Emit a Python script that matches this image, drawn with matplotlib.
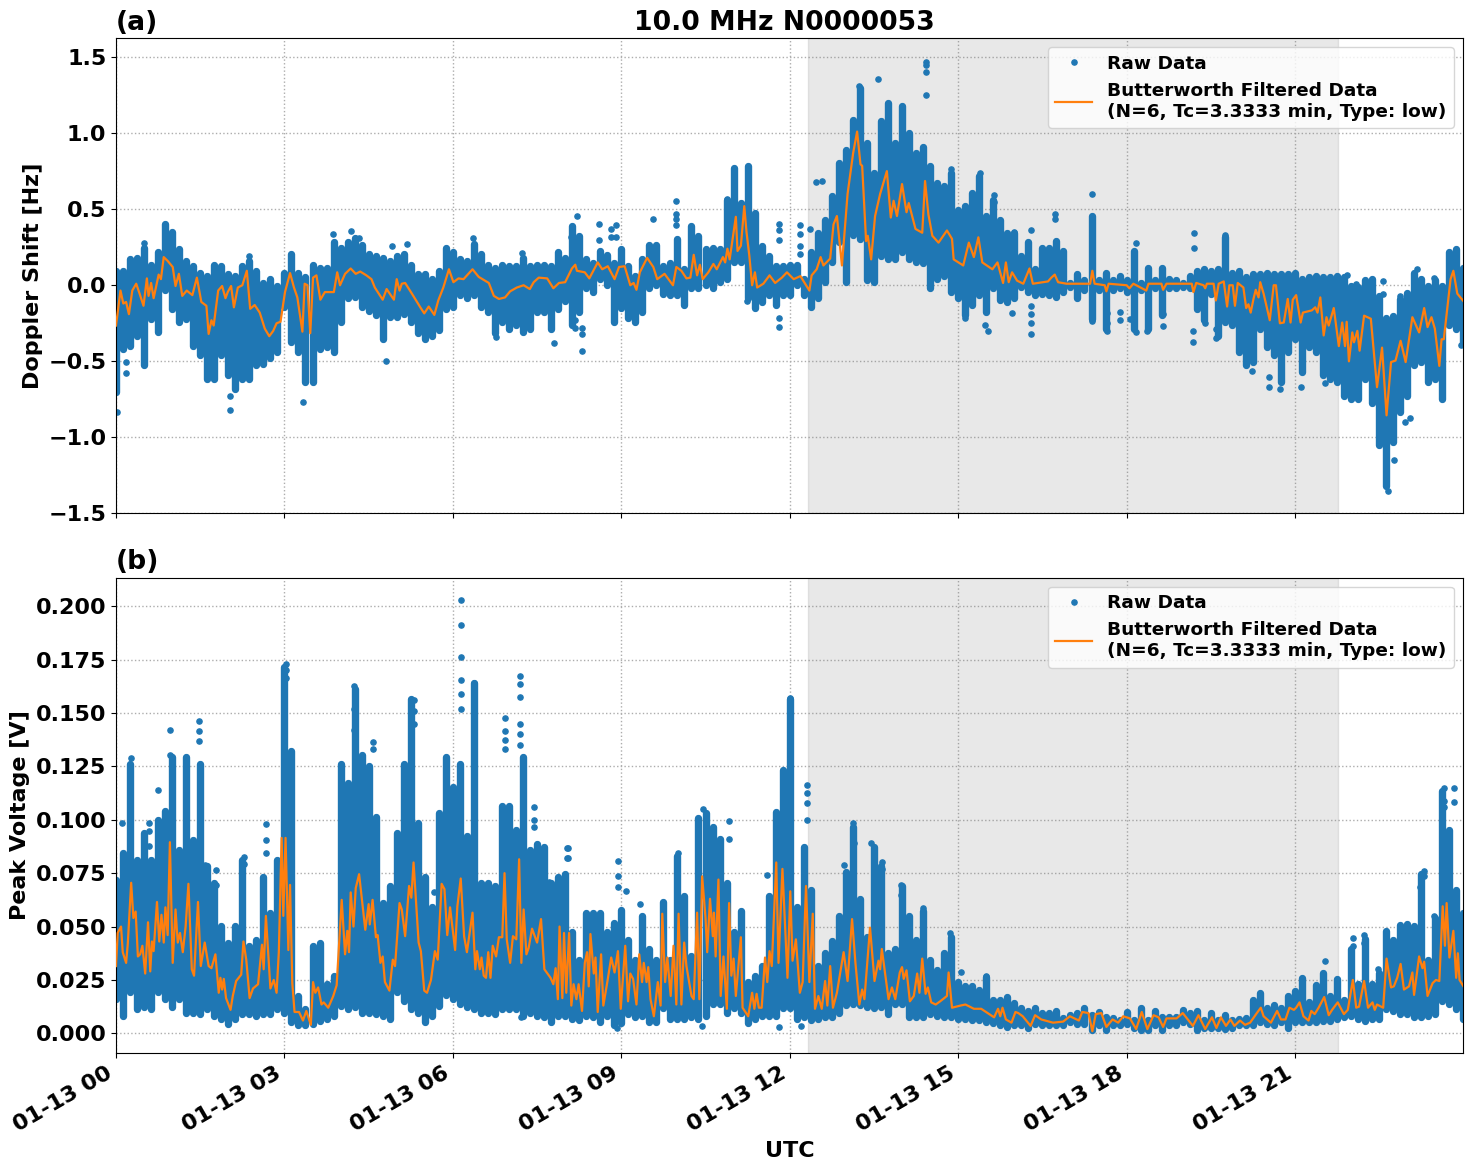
from datetime import datetime

import numpy as np
import pandas as pd
import matplotlib
matplotlib.use("Agg")
import matplotlib.pyplot as plt
import matplotlib.dates as mdates

plt.rcParams["font.size"] = 16
plt.rcParams["font.weight"] = "bold"
plt.rcParams["axes.labelweight"] = "bold"
plt.rcParams["axes.titleweight"] = "bold"

start = datetime(2024, 1, 13)
TITLE = "10.0 MHz N0000053 "
FILTER_LABEL = "Butterworth Filtered Data\n(N=6, Tc=3.3333 min, Type: low)"
eclipse_hours = (12.33, 21.76)
doppler_ylim = (-1.5, 1.625)
voltage_ylim = (-0.0092, 0.2134)

# Spread of the raw Doppler samples, one low/high pair every 7.5 minutes
doppler_high = [
    .12, .12, .195, .205, .27, .16, .24, .425, .375, .26, .185, .15, .105, .085, .16, .15,
    .095, .085, .15, .185, .12, .04, .065, .02, .105, .23, .105, .075, .16, .14, .14, .305,
    .27, .305, .335, .285, .23, .215, .205, .185, .215, .23, .16, .095, .095, .065, .12, .27,
    .24, .195, .185, .295, .23, .16, .14, .16, .15, .15, .205, .15, .16, .16, .15, .24, .205,
    .41, .345, .195, .17, .25, .225, .17, .26, .15, .085, .195, .29, .29, .15, .17, .325,
    .13, .41, .345, .26, .27, .26, .585, .795, .565, .805, .50, .28, .215, .15, .15, .16,
    .16, .065, .24, .37, .455, .61, .83, .915, 1.11, 1.32, .96, .76, 1.10, 1.22, .96, 1.20,
    1.025, .89, .935, .805, .695, .675, .76, .52, .545, .63, .74, .48, .585, .455, .37, .37,
    .215, .305, .13, .27, .27, .315, .25, .04, .095, .055, .48, .055, .105, .055, .085, .055,
    .25, .04, .14, .055, .14, .065, .055, .04, .085, .12, .13, .12, .13, .34, .105, .12,
    .075, .095, .095, .105, .095, .095, .095, .105, .065, .075, .085, .075, .075, .085, .075, .02,
    .01, .055, .065, -.045, -.19, -.18, -.07, -.025, .105, .065, .02, .055, .02, .24, .26, .14,
]
doppler_low = [
    -.725, -.44, -.42, -.355, -.55, -.245, -.33, -.055, -.18, -.265, -.245, -.42, -.485, -.64, -.64, -.485,
    -.615, -.705, -.64, -.64, -.55, -.54, -.505, -.465, -.165, -.395, -.465, -.66, -.66, -.44, -.43, -.465,
    -.265, -.11, -.10, -.165, -.19, -.22, -.375, -.23, -.23, -.21, -.265, -.34, -.375, -.355, -.32, -.18,
    -.165, -.09, -.11, -.09, -.165, -.20, -.34, -.265, -.31, -.285, -.33, -.31, -.20, -.20, -.31, -.18, -.125,
    -.285, -.20, -.045, -.065, .02, -.025, -.265, -.175, -.24, -.265, -.20, -.045, -.025, -.08, -.09, -.09,
    -.155, -.045, -.045, -.025, -.045, 0, .02, .13, .13, -.11, -.175, -.135, -.09, -.155, -.09, -.09,
    -.025, -.09, -.165, -.11, 0, .13, .26, 0, .305, .28, .01, 0, .17, .15, .15,
    .195, .15, .13, .12, -.045, .02, .04, -.07, -.11, -.22, -.155, -.09, -.20, -.045, -.12, -.135, -.11,
    -.035, -.07, -.09, -.08, -.09, -.10, -.07, -.035, -.11, -.055, -.245, -.055, -.31, -.055, -.045, -.07,
    -.31, -.055, -.31, -.045, -.22, -.045, -.045, -.035, -.045, -.18, -.255, -.08, -.355, -.265, -.285, -.465,
    -.55, -.53, -.31, -.43, -.485, -.66, -.465, -.375, -.595, -.43, -.465, -.615, -.64, -.66, -.75, -.77,
    -.77, -.64, -.80, -1.075, -1.34, -1.055, -.86, -.75, -.55, -.53, -.66, -.64, -.77, -.285, -.31, -.395,
]
# Isolated raw Doppler samples standing clear of the main spread
doppler_points = [
    (.02, -.83), (.17, -.58), (.17, -.505), (.49, .28), (2.03, -.82), (2.03, -.73), (2.37, .19), (3.33, -.765),
    (3.87, .34), (4.19, .355), (4.33, .31), (4.81, -.50), (4.92, .255), (5.19, .27), (6.35, .31), (6.76, -.34),
    (7.23, .21), (7.8, -.38), (8.1, .32), (8.18, -.23), (8.18, -.28), (8.21, .455), (8.3, -.43), (8.3, -.32),
    (8.3, -.28), (8.6, .40), (8.6, .30), (8.81, .37), (8.81, .315), (8.9, .395), (8.9, .315), (9.57, .435),
    (9.98, .555), (9.98, .47), (9.98, .435), (9.98, .395), (10.89, .57), (10.89, .50), (11.23, -.105), (11.8, -.275),
    (11.8, -.215), (11.8, .40), (11.8, .36), (11.8, .30), (12.19, .395), (12.19, .335), (12.19, .26), (12.19, .205),
    (12.36, .37), (12.46, .68), (12.57, .685), (13.23, 1.31), (13.58, 1.355), (14.43, 1.47), (14.43, 1.45), (14.43, 1.40),
    (14.43, 1.25), (14.88, .765), (15.13, -.215), (15.39, .74), (15.48, -.26), (15.54, -.30), (15.64, .59), (15.64, .545),
    (15.96, -.18), (16.0, .35), (16.3, .36), (16.3, -.32), (16.3, -.25), (16.3, -.19), (16.3, -.135), (16.73, .47),
    (16.73, .435), (17.39, .60), (17.39, -.235), (17.39, -.165), (17.65, -.30), (17.65, -.245), (17.65, -.18), (17.89, -.175),
    (17.89, -.23), (18.06, -.22), (18.17, -.31), (18.17, .28), (18.36, -.30), (18.65, -.265), (18.65, -.19), (19.19, -.375),
    (19.19, -.30), (19.2, .345), (19.2, .245), (19.39, -.245), (19.59, -.35), (19.59, -.29), (19.76, .33), (20.23, -.565),
    (20.53, -.67), (20.53, -.60), (20.74, -.68), (21.1, -.67), (21.53, -.64), (21.93, .065), (22.09, .01), (22.57, .025),
    (22.57, -.055), (22.65, -1.355), (22.76, -1.15), (22.87, -.07), (22.96, -.90), (23.05, -.87), (23.17, .11), (23.48, .045),
    (23.96, -.39),
]
doppler_filtered = [
    (0, -.265), (.08, -.035), (.13, -.12), (.18, -.11), (.23, -.19), (.29, -.035), (.36, .01), (.42, -.055),
    (.49, -.135), (.55, .045), (.58, -.07), (.625, .015), (.67, -.085), (.76, .07), (.80, .04), (.85, .185),
    (.92, .16), (1.01, .12), (1.06, -.005), (1.12, .075), (1.18, -.07), (1.26, -.035), (1.36, -.065), (1.44, .05),
    (1.52, -.11), (1.61, -.135), (1.65, -.32), (1.70, -.23), (1.74, -.265), (1.82, -.035), (1.89, -.005), (1.95, -.085),
    (1.99, -.045), (2.05, -.005), (2.10, -.145), (2.17, -.015), (2.25, 0), (2.33, .095), (2.39, -.155), (2.47, -.13),
    (2.56, -.18), (2.65, -.285), (2.73, -.335), (2.80, -.30), (2.86, -.25), (2.93, -.24), (3.01, -.045), (3.10, .08),
    (3.17, -.015), (3.23, -.08), (3.32, -.305), (3.36, .01), (3.41, 0), (3.46, -.315), (3.51, .05), (3.57, .065),
    (3.64, -.095), (3.72, -.045), (3.88, -.045), (3.94, .085), (3.99, 0), (4.08, .075), (4.18, .11), (4.27, .075),
    (4.35, .09), (4.46, .065), (4.55, .04), (4.61, -.015), (4.75, -.095), (4.82, -.025), (4.95, -.095), (5.0, .04),
    (5.05, -.035), (5.09, .01), (5.15, .015), (5.27, -.055), (5.42, -.145), (5.49, -.185), (5.57, -.14), (5.67, -.195),
    (5.74, -.10), (5.83, -.015), (5.93, .105), (6.01, .02), (6.10, .045), (6.19, .04), (6.35, .105), (6.46, .055),
    (6.64, .015), (6.73, -.07), (6.82, -.09), (6.93, -.08), (7.02, -.04), (7.14, -.015), (7.26, 0), (7.37, -.025),
    (7.44, .02), (7.53, .05), (7.68, .045), (7.79, -.02), (7.89, .015), (8.0, .02), (8.12, .11), (8.18, .135),
    (8.21, .095), (8.35, .085), (8.43, .045), (8.58, .15), (8.66, .105), (8.76, .125), (8.88, .04), (8.96, .12),
    (9.06, .125), (9.16, 0), (9.22, .015), (9.27, -.03), (9.33, .085), (9.46, .18), (9.57, .12), (9.64, .04),
    (9.77, .075), (9.92, 0), (9.98, .12), (10.07, .095), (10.16, .045), (10.23, .05), (10.29, .20), (10.35, .065),
    (10.40, .135), (10.45, .04), (10.55, .085), (10.64, .14), (10.70, .105), (10.81, .185), (10.85, .15), (10.89, .24),
    (10.93, .17), (11.04, .45), (11.07, .225), (11.13, .26), (11.19, .52), (11.23, .35), (11.28, .195), (11.33, 0),
    (11.38, .085), (11.42, -.015), (11.53, .01), (11.64, .065), (11.74, .015), (11.86, .05), (11.95, .085), (12.07, .04),
    (12.19, .06), (12.35, -.035), (12.39, .065), (12.48, .105), (12.55, .185), (12.60, .13), (12.72, .175), (12.78, .40),
    (12.84, .455), (12.93, .13), (13.03, .60), (13.13, .87), (13.2, 1.01), (13.26, .795), (13.29, .785), (13.36, .29),
    (13.39, .325), (13.45, .17), (13.52, .455), (13.61, .60), (13.73, .75), (13.80, .445), (13.85, .555), (13.91, .455),
    (14.0, .665), (14.08, .48), (14.12, .54), (14.24, .37), (14.36, .345), (14.41, .685), (14.47, .465), (14.54, .325),
    (14.65, .28), (14.80, .36), (14.89, .305), (14.92, .17), (15.09, .13), (15.19, .28), (15.28, .185), (15.36, .315),
    (15.43, .15), (15.61, .105), (15.70, .15), (15.8, .015), (15.85, .15), (15.90, .02), (15.96, .085), (16.05, .03),
    (16.16, .01), (16.27, .11), (16.33, .01), (16.6, .025), (16.66, .05), (16.72, .07), (16.78, .02), (16.93, .01),
    (17.35, .01), (17.39, .095), (17.43, .01), (17.61, 0), (17.64, -.04), (17.68, .01), (18.0, 0), (18.05, -.02),
    (18.12, .01), (18.35, -.035), (18.39, .01), (18.62, .01), (18.65, -.03), (18.71, .01), (19.16, .01), (19.19, -.045),
    (19.24, .015), (19.37, 0), (19.40, -.02), (19.43, .01), (19.55, .01), (19.59, -.10), (19.64, .01), (19.73, .025),
    (19.79, -.14), (19.83, 0), (19.89, 0), (19.93, -.135), (19.98, .015), (20.08, -.015), (20.13, -.15), (20.17, -.125),
    (20.21, -.18), (20.26, -.09), (20.30, -.03), (20.35, -.08), (20.38, .02), (20.44, -.055), (20.55, -.23), (20.62, 0),
    (20.66, 0), (20.73, -.25), (20.80, -.245), (20.87, -.09), (20.92, -.245), (20.96, -.095), (21.02, -.065), (21.10, -.245),
    (21.14, -.18), (21.30, -.165), (21.36, -.145), (21.40, -.18), (21.45, -.08), (21.51, -.33), (21.56, -.21), (21.6, -.265),
    (21.69, -.15), (21.78, -.40), (21.84, -.245), (21.89, -.40), (21.92, -.24), (21.96, -.50), (22.02, -.31), (22.05, -.375),
    (22.11, -.30), (22.15, -.43), (22.23, -.20), (22.35, -.22), (22.46, -.67), (22.55, -.41), (22.63, -.855), (22.71, -.505),
    (22.79, -.495), (22.88, -.365), (22.97, -.505), (23.09, -.21), (23.21, -.31), (23.30, -.15), (23.36, -.275), (23.43, -.21),
    (23.49, -.285), (23.57, -.53), (23.61, -.355), (23.65, -.355), (23.77, .04), (23.82, .095), (23.89, -.055), (24.0, -.105),
]

# Same breakdown for the peak voltage
voltage_high = [
    .0735, .086, .128, .083, .0955, .083, .1015, .106, .131, .0875, .131, .092, .128, .08, .072, .052,
    .044, .052, .083, .0425, .0455, .075, .058, .083, .173, .134, .019, .013, .0425, .044, .025, .0285,
    .128, .119, .163, .132, .127, .103, .0625, .0705, .0955, .128, .158, .10, .075, .061, .105, .131,
    .117, .128, .094, .1655, .072, .072, .0705, .108, .108, .097, .131, .0875, .0905, .089, .072, .075, .0765,
    .049, .036, .058, .058, .058, .049, .0535, .0595, .0455, .036, .0565, .041, .036, .063, .036, .0845,
    .066, .038, .1025, .105, .0985, .0925, .072, .049, .059, .0255, .0285, .033, .066, .1055, .125, .158,
    .061, .089, .069, .033, .0395, .045, .0565, .077, .0985, .0645, .047, .089, .08, .0395, .041, .0705,
    .0565, .0455, .059, .036, .0315, .0395, .047, .0255, .024, .024, .022, .028, .0175, .0175, .0185, .016,
    .0135, .012, .0135, .011, .011, .012, .009, .0105, .011, .0135, .0105, .0115, .0095, .009, .008, .0115,
    .008, .0135, .008, .012, .0095, .0095, .0095, .0125, .011, .012, .008, .011, .008, .0105, .008, .0085,
    .009, .0175, .0205, .0135, .015, .0135, .019, .0215, .0275, .0165, .0245, .03, .019, .027, .0175, .041,
    .025, .046, .025, .03, .0495, .0455, .0525, .053, .052, .0765, .036, .0555, .115, .097, .069, .058,
]
voltage_low = [
    .0145, .0065, .0175, .0095, .0105, .0095, .0175, .0145, .0105, .0145, .008, .008, .0075, .0095, .0065, .005,
    .0025, .005, .0075, .0075, .0065, .0075, .0075, .0095, .008, .0035, .002, .002, .0025, .004, .005, .0065,
    .011, .0095, .0105, .008, .008, .0075, .0065, .005, .0175, .0135, .0095, .008, .0035, .0065, .011, .0165,
    .0145, .012, .0105, .0095, .008, .008, .0075, .0095, .0095, .0095, .0065, .008, .0065, .006, .0035, .0065, .0065,
    .005, .0045, .0065, .006, .0035, .0065, .002, .003, .0075, .006, .0065, .0035, .0035, .01, .005, .005,
    .005, .006, .005, .0065, .012, .012, .008, .01, .008, .003, .005, .0065, .0065, .0065, .01, .01,
    .005, .006, .0045, .005, .006, .006, .008, .0115, .012, .0115, .0105, .01, .0105, .0075, .012, .012,
    .006, .006, .006, .0075, .0065, .006, .006, .005, .005, .0045, .0045, .0035, .003, .002, .0015, .002,
    .002, .001, .0025, .002, .002, .002, .002, .0035, .0025, .0025, 0, .002, 0, .002, .002, .0025,
    .001, 0, 0, .002, 0, .002, .002, .0035, .0025, 0, .001, .001, .001, .0005, .001, .002,
    .002, .002, .0035, .0025, .002, .0035, .001, .0035, .0035, .0035, .0035, .004, .004, .005, .006, .0065,
    .005, .004, .005, .005, .0095, .009, .0075, .0075, .006, .006, .0065, .0075, .0135, .012, .0095, .005,
]
voltage_points = [
    (.11, .0985), (.26, .129), (.58, .0985), (.58, .0945), (.58, .0875), (.74, .114), (.96, .142), (.96, .1305),
    (1.48, .146), (1.48, .1415), (1.48, .137), (1.58, .079), (1.78, .0765), (1.78, .0695), (2.28, .0825), (2.28, .0795),
    (2.67, .098), (2.67, .0905), (2.67, .0845), (3.03, .173), (3.03, .17), (3.03, .1665), (4.24, .1625), (4.24, .152),
    (4.24, .142), (4.57, .1365), (4.57, .133), (5.3, .156), (5.3, .151), (5.3, .145), (5.67, .066), (6.15, .203),
    (6.15, .191), (6.15, .176), (6.15, .1655), (6.15, .159), (6.15, .152), (6.37, .164), (6.37, .158), (6.37, .153),
    (6.37, .1445), (6.37, .139), (6.37, .1265), (6.92, .1475), (6.92, .1415), (6.92, .1375), (6.92, .133), (7.19, .1675),
    (7.19, .1635), (7.19, .1575), (7.19, .145), (7.19, .14), (7.19, .135), (7.21, .0075), (7.45, .106), (7.45, .10),
    (7.45, .0965), (7.71, .071), (7.71, .066), (7.71, .061), (8.03, .087), (8.03, .082), (8.05, .087), (8.05, .082),
    (8.92, .0025), (8.94, .0805), (8.94, .0735), (8.94, .0685), (9.08, .0665), (9.33, .0605), (10.01, .0845), (10.43, .0035),
    (10.46, .105), (10.92, .0995), (10.92, .091), (11.59, .074), (11.8, .003), (12.01, .157), (12.01, .1545), (12.01, .1485),
    (12.01, .1405), (12.01, .131), (12.01, .1225), (12.2, .0035), (12.3, .1165), (12.3, .1125), (12.3, .108), (12.3, .10),
    (12.96, .079), (13.13, .0985), (13.14, .089), (13.45, .089), (13.64, .08), (13.64, .077), (13.99, .0695), (13.99, .065),
    (14.37, .0585), (14.85, .047), (15.05, .0285), (15.5, .027), (21.53, .034), (22.03, .0445), (22.03, .041), (22.23, .046),
    (22.23, .0425), (22.47, .03), (23.23, .0685), (23.29, .076), (23.29, .0735), (23.48, .055), (23.66, .115), (23.66, .109),
    (23.66, .106), (23.84, .115), (23.84, .1085),
]
voltage_filtered = [
    (0, .0315), (.03, .047), (.09, .05), (.12, .038), (.18, .033), (.21, .042), (.27, .0705), (.31, .054),
    (.35, .057), (.39, .036), (.43, .037), (.47, .041), (.52, .028), (.57, .052), (.61, .029), (.64, .043),
    (.67, .0385), (.73, .0615), (.77, .043), (.81, .0555), (.85, .0425), (.88, .059), (.92, .046), (.96, .0895),
    (1.01, .033), (1.06, .058), (1.10, .0425), (1.14, .047), (1.19, .038), (1.24, .05), (1.29, .07), (1.35, .03),
    (1.39, .027), (1.46, .0615), (1.51, .0315), (1.58, .0425), (1.65, .0315), (1.70, .0305), (1.77, .037), (1.83, .019),
    (1.86, .026), (1.89, .0205), (1.92, .0255), (1.96, .0165), (2.04, .011), (2.08, .0175), (2.14, .0245), (2.23, .0275),
    (2.27, .043), (2.32, .0345), (2.38, .0165), (2.44, .021), (2.53, .023), (2.60, .0415), (2.63, .03), (2.67, .055),
    (2.75, .021), (2.81, .025), (2.86, .019), (2.90, .038), (2.95, .0915), (2.98, .055), (3.02, .0915), (3.07, .039),
    (3.10, .0695), (3.14, .0235), (3.18, .01), (3.26, .01), (3.33, .006), (3.39, .0105), (3.47, .004), (3.51, .024),
    (3.55, .019), (3.60, .0215), (3.66, .0135), (3.70, .0145), (3.78, .012), (3.87, .0175), (3.93, .0225), (4.02, .0625),
    (4.08, .037), (4.12, .048), (4.15, .038), (4.18, .066), (4.23, .05), (4.27, .068), (4.33, .0745), (4.44, .0485),
    (4.5, .0605), (4.52, .051), (4.57, .0625), (4.63, .045), (4.66, .046), (4.71, .033), (4.75, .036), (4.79, .024),
    (4.87, .02), (4.93, .0345), (4.97, .0315), (5.05, .061), (5.09, .058), (5.15, .0455), (5.22, .069), (5.26, .0635),
    (5.30, .08), (5.39, .0425), (5.43, .0385), (5.49, .02), (5.54, .019), (5.61, .025), (5.68, .0385), (5.73, .0345),
    (5.80, .07), (5.85, .0675), (5.90, .046), (5.95, .059), (6.04, .039), (6.08, .0595), (6.14, .0725), (6.20, .0455),
    (6.25, .038), (6.35, .0565), (6.40, .03), (6.43, .0385), (6.48, .03), (6.51, .0355), (6.55, .027), (6.59, .026),
    (6.63, .038), (6.67, .026), (6.71, .041), (6.77, .036), (6.82, .045), (6.88, .045), (6.92, .075), (6.96, .044),
    (7.02, .033), (7.07, .0455), (7.13, .044), (7.18, .0815), (7.22, .033), (7.26, .058), (7.31, .037), (7.35, .04),
    (7.41, .049), (7.5, .0425), (7.57, .0535), (7.63, .03), (7.74, .026), (7.79, .023), (7.83, .0305), (7.87, .016),
    (7.90, .05), (7.95, .0165), (7.98, .047), (8.02, .019), (8.07, .047), (8.11, .013), (8.15, .023), (8.2, .016),
    (8.24, .023), (8.3, .0105), (8.35, .033), (8.39, .038), (8.42, .022), (8.45, .0465), (8.51, .028), (8.54, .0355),
    (8.58, .01), (8.64, .037), (8.68, .013), (8.76, .0255), (8.82, .0355), (8.88, .0285), (8.94, .0385), (8.99, .0115),
    (9.07, .041), (9.12, .015), (9.16, .028), (9.21, .0255), (9.27, .0135), (9.32, .037), (9.37, .024), (9.40, .033),
    (9.45, .024), (9.48, .031), (9.52, .016), (9.58, .008), (9.65, .024), (9.70, .013), (9.73, .056), (9.78, .024),
    (9.82, .0355), (9.88, .0175), (9.93, .041), (9.98, .0135), (10.02, .056), (10.07, .0135), (10.12, .0425), (10.16, .0315),
    (10.25, .0175), (10.29, .016), (10.35, .0565), (10.39, .016), (10.44, .0735), (10.5, .054), (10.53, .038), (10.58, .063),
    (10.63, .0455), (10.65, .0565), (10.68, .036), (10.73, .072), (10.77, .0175), (10.82, .036), (10.88, .0115), (10.92, .061),
    (10.96, .027), (11.0, .035), (11.04, .0175), (11.13, .045), (11.16, .012), (11.26, .008), (11.33, .019), (11.37, .0115),
    (11.41, .0185), (11.45, .012), (11.5, .012), (11.56, .0355), (11.6, .024), (11.64, .0385), (11.68, .0315), (11.76, .08),
    (11.80, .033), (11.87, .077), (11.96, .026), (12.01, .0665), (12.05, .034), (12.11, .044), (12.18, .019), (12.23, .024),
    (12.29, .069), (12.35, .024), (12.41, .056), (12.45, .0115), (12.51, .0175), (12.57, .0115), (12.63, .0245), (12.67, .013),
    (12.72, .0315), (12.77, .012), (12.84, .019), (12.96, .038), (13.03, .0245), (13.11, .0535), (13.17, .033), (13.24, .0135),
    (13.29, .0205), (13.33, .016), (13.43, .0495), (13.51, .0245), (13.58, .034), (13.61, .03), (13.64, .0395), (13.76, .016),
    (13.82, .0215), (13.88, .016), (13.96, .0285), (14.0, .031), (14.03, .0255), (14.08, .0295), (14.14, .015), (14.21, .0175),
    (14.27, .028), (14.31, .019), (14.36, .035), (14.42, .0185), (14.46, .0215), (14.52, .0145), (14.6, .0135), (14.68, .015),
    (14.80, .0175), (14.83, .0285), (14.89, .012), (15.04, .013), (15.13, .0135), (15.28, .0115), (15.41, .0115), (15.64, .0075),
    (15.71, .0115), (15.75, .008), (15.79, .012), (15.85, .0065), (15.95, .005), (16.02, .01), (16.07, .0095), (16.15, .008),
    (16.29, .0035), (16.37, .0085), (16.48, .0065), (16.69, .005), (16.87, .0055), (16.99, .008), (17.15, .006), (17.21, .01),
    (17.32, .0095), (17.39, .001), (17.45, .009), (17.55, .0095), (17.64, .003), (17.75, .0065), (17.85, .005), (17.94, .008),
    (18.06, .007), (18.17, .002), (18.27, .01), (18.37, .002), (18.48, .0085), (18.57, .0075), (18.65, .003), (18.71, .007),
    (18.89, .007), (19.0, .0095), (19.18, .0035), (19.28, .0085), (19.4, .002), (19.52, .0075), (19.6, .0025), (19.68, .0075),
    (19.77, .0035), (19.85, .0065), (19.92, .0035), (20.02, .006), (20.11, .004), (20.2, .005), (20.32, .0095), (20.39, .012),
    (20.44, .008), (20.57, .005), (20.68, .0105), (20.75, .0065), (20.83, .0065), (20.9, .012), (20.98, .011), (21.02, .012),
    (21.08, .0145), (21.15, .008), (21.24, .006), (21.29, .0105), (21.35, .009), (21.42, .012), (21.52, .017), (21.6, .0085),
    (21.66, .011), (21.76, .0145), (21.87, .009), (21.94, .011), (22.03, .025), (22.09, .012), (22.14, .0125), (22.23, .0245),
    (22.3, .012), (22.38, .0145), (22.42, .011), (22.46, .0135), (22.57, .012), (22.63, .035), (22.71, .0215), (22.76, .022),
    (22.82, .026), (22.88, .0325), (22.94, .0205), (23.03, .022), (23.09, .0285), (23.12, .018), (23.21, .036), (23.27, .0305),
    (23.3, .0335), (23.36, .0175), (23.45, .0235), (23.51, .025), (23.57, .0245), (23.63, .0595), (23.67, .041), (23.7, .061),
    (23.75, .0355), (23.82, .048), (23.87, .026), (23.9, .0375), (23.93, .025), (24.0, .022),
]


def to_times(hours):
    return pd.Timestamp(start) + pd.to_timedelta(np.asarray(hours, dtype=float), unit="h")


def draw_panel(ax, low, high, points, filtered, ylim):
    ax.set_ylim(*ylim)
    grid_hours = np.arange(len(high)) * 0.125
    point_hours, point_vals = zip(*points)
    filt_hours, filt_vals = zip(*filtered)

    # dense raw samples pile up into round-topped columns; pull the ends in by the cap radius
    cap = 3.6 * (ylim[1] - ylim[0]) / 475
    low = np.asarray(low, dtype=float)
    high = np.asarray(high, dtype=float)
    mid = (low + high) / 2
    ax.vlines(to_times(grid_hours), np.minimum(low + cap, mid), np.maximum(high - cap, mid),
              color="tab:blue", linewidth=5.3, capstyle="round", zorder=2)
    ax.plot(to_times(point_hours), point_vals, ".", color="tab:blue", markersize=7.5, label="Raw Data", zorder=2)
    ax.plot(to_times(filt_hours), filt_vals, color="tab:orange", linewidth=1.6, label=FILTER_LABEL, zorder=3)

    ax.axvspan(to_times([eclipse_hours[0]])[0], to_times([eclipse_hours[1]])[0], color="0.5", alpha=0.18, zorder=1)
    ax.grid(True, linestyle=":", color="0.68", linewidth=1)
    ax.set_axisbelow(True)
    ax.legend(loc="upper right", fontsize=13.3, framealpha=0.8)


fig, (ax0, ax1) = plt.subplots(2, 1, figsize=(14.72, 11.72), dpi=100, sharex=True)
fig.subplots_adjust(left=116 / 1472, right=1463 / 1472, top=1 - 38 / 1172, bottom=1 - 1053 / 1172, hspace=64 / 475)

draw_panel(ax0, doppler_low, doppler_high, doppler_points, doppler_filtered, doppler_ylim)
draw_panel(ax1, voltage_low, voltage_high, voltage_points, voltage_filtered, voltage_ylim)

ax0.set_ylabel("Doppler Shift [Hz]")
ax0.set_title(TITLE, fontsize=19.2)
ax0.set_title("(a)", loc="left", fontsize=19.2)

ax1.set_yticks(np.arange(0, 0.201, 0.025))
ax1.set_ylabel("Peak Voltage [V]")
ax1.set_xlabel("UTC")
ax1.set_title("(b)", loc="left", fontsize=19.2)

# last sample falls just short of midnight, so no tick at the right edge
ax1.set_xlim(start, datetime(2024, 1, 13, 23, 59, 30))
ax1.xaxis.set_major_locator(mdates.HourLocator(byhour=range(0, 24, 3)))
ax1.xaxis.set_major_formatter(mdates.DateFormatter("%m-%d %H"))
for label in ax1.get_xticklabels():
    label.set_rotation(30)
    label.set_ha("right")

fig.savefig("out.png", dpi=100)
